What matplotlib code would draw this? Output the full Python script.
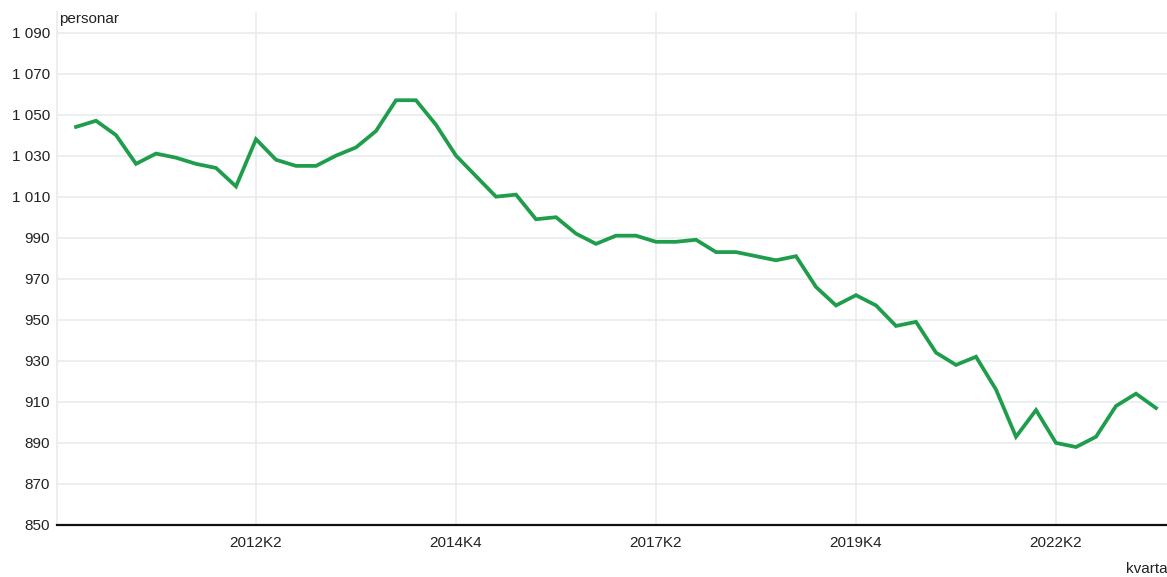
import matplotlib.pyplot as plt

plt.rcParams['font.family'] = ['Liberation Sans', 'DejaVu Sans']

# quarters 2010K1 .. 2023K3
years = [y for y in range(2010, 2024) for q in range(4)][:55]
quarters = [q for y in range(2010, 2024) for q in range(1, 5)][:55]
labels = [f"{y}K{q}" for y, q in zip(years, quarters)]

personar = [1044, 1047, 1040, 1026, 1031, 1029, 1026, 1024, 1015, 1038,
            1028, 1025, 1025, 1030, 1034, 1042, 1057, 1057, 1045, 1030,
            1020, 1010, 1011, 999, 1000, 992, 987, 991, 991, 988,
            988, 989, 983, 983, 981, 979, 981, 966, 957, 962,
            957, 947, 949, 934, 928, 932, 916, 893, 906, 890,
            888, 893, 908, 914, 907]

tick_labels = ['2012K2', '2014K4', '2017K2', '2019K4', '2022K2']
y_ticks = list(range(850, 1091, 20))

W, H = 1167, 577
fig = plt.figure(figsize=(W / 100, H / 100), dpi=100)
ax = fig.add_axes([57 / W, (H - 525) / H, (W - 57) / W, (525 - 12) / H])

x = list(range(len(personar)))
ax.plot(x, personar, color='#1f9d4c', linewidth=2.7, solid_joinstyle='miter')

ax.set_xlim(-0.95, 54.55)
ax.set_ylim(850, 1100)
ax.set_xticks([labels.index(t) for t in tick_labels])
ax.set_xticklabels(tick_labels)
ax.set_yticks(y_ticks)
ax.set_yticklabels([f"{v // 1000} {v % 1000:03d}" if v >= 1000 else str(v) for v in y_ticks])

ax.grid(True, color='#e9ecec', linewidth=1.2)
ax.set_axisbelow(True)
for s in ['top', 'right']:
    ax.spines[s].set_visible(False)
ax.spines['left'].set_color('#e9ecec')
ax.spines['left'].set_linewidth(1.2)
ax.spines['bottom'].set_color('#111111')
ax.spines['bottom'].set_linewidth(1.6)
ax.tick_params(length=0, labelsize=11, colors='#222222', pad=5)
ax.tick_params(axis='x', pad=8)

fig.text(59 / W, 1 - 19 / H, 'personar', fontsize=11, color='#222222', va='center', ha='left')
fig.text(1126 / W, 1 - 569 / H, 'kvartal', fontsize=11, color='#222222', va='center', ha='left')

fig.savefig('out.png', dpi=100)
